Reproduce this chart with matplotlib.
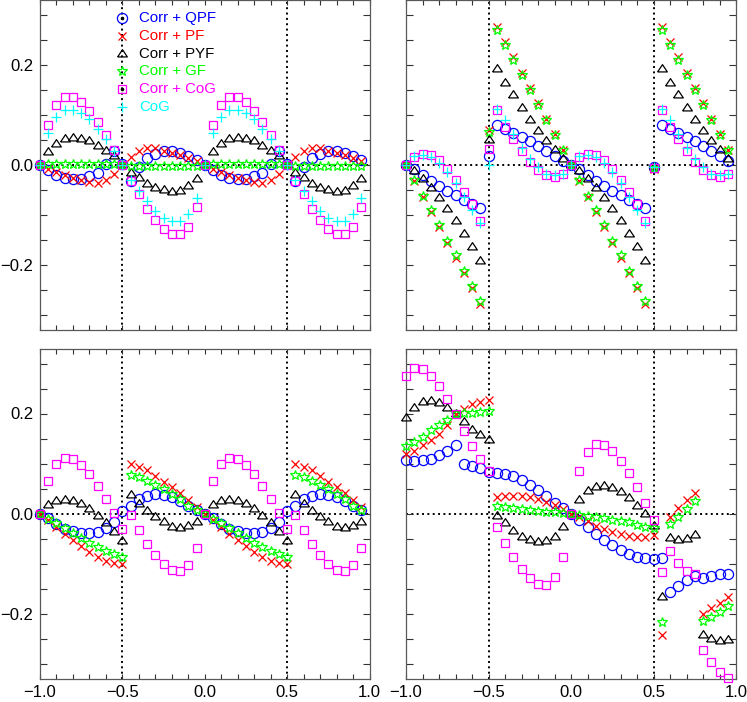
import numpy as np
import matplotlib
matplotlib.use("Agg")
import matplotlib.pyplot as plt
from matplotlib.ticker import MultipleLocator

plt.rcParams['font.family'] = ['Liberation Sans', 'DejaVu Sans']

# sample positions
x = [-1.0, -0.95, -0.9, -0.85, -0.8, -0.75, -0.7, -0.65, -0.6, -0.55,
     -0.5, -0.45, -0.4, -0.35, -0.3, -0.25, -0.2, -0.15, -0.1, -0.05,
     0.0, 0.05, 0.1, 0.15, 0.2, 0.25, 0.3, 0.35, 0.4, 0.45,
     0.5, 0.55, 0.6, 0.65, 0.7, 0.75, 0.8, 0.85, 0.9, 0.95]

labels = ["Corr + QPF", "Corr + PF", "Corr + PYF", "Corr + GF", "Corr + CoG", "CoG"]
colors = ["#0000ff", "#ff0000", "#000000", "#00ff00", "#ff00ff", "#00ffff"]

# ---- top left
tl_qpf = [0.0, -0.010, -0.019, -0.025, -0.028, -0.027, -0.022, -0.015, 0.003, 0.029,
          0.003, -0.031, -0.003, 0.015, 0.023, 0.028, 0.029, 0.025, 0.019, 0.010,
          0.0, -0.010, -0.019, -0.025, -0.028, -0.027, -0.022, -0.015, 0.003, 0.029,
          0.003, -0.031, -0.003, 0.015, 0.023, 0.028, 0.029, 0.025, 0.019, 0.010]
tl_pf = [0.0, -0.008, -0.014, -0.020, -0.025, -0.029, -0.034, -0.035, -0.029, -0.017,
         0.0, 0.017, 0.029, 0.035, 0.034, 0.029, 0.025, 0.020, 0.014, 0.008,
         0.0, -0.008, -0.014, -0.020, -0.025, -0.029, -0.034, -0.035, -0.029, -0.017,
         0.0, 0.017, 0.029, 0.035, 0.034, 0.029, 0.025, 0.020, 0.014, 0.008]
tl_pyf = [0.0, 0.027, 0.043, 0.052, 0.055, 0.053, 0.048, 0.039, 0.029, 0.018,
          0.0, -0.016, -0.026, -0.037, -0.045, -0.050, -0.053, -0.052, -0.041, -0.027,
          0.0, 0.027, 0.043, 0.052, 0.055, 0.053, 0.048, 0.039, 0.029, 0.018,
          0.0, -0.016, -0.026, -0.037, -0.045, -0.050, -0.053, -0.052, -0.041, -0.027]
tl_gf = [0.0, 0.002, 0.002, 0.002, 0.002, 0.002, 0.002, 0.002, 0.002, 0.002,
         0.0, -0.002, -0.002, -0.002, -0.002, -0.002, -0.002, -0.002, -0.002, -0.002,
         0.0, 0.002, 0.002, 0.002, 0.002, 0.002, 0.002, 0.002, 0.002, 0.002,
         0.0, -0.002, -0.002, -0.002, -0.002, -0.002, -0.002, -0.002, -0.002, -0.002]
tl_ccog = [0.0, 0.081, 0.120, 0.137, 0.137, 0.126, 0.109, 0.086, 0.060, 0.030,
           0.0, -0.031, -0.058, -0.088, -0.110, -0.128, -0.137, -0.137, -0.123, -0.084,
           0.0, 0.081, 0.120, 0.137, 0.137, 0.126, 0.109, 0.086, 0.060, 0.030,
           0.0, -0.031, -0.058, -0.088, -0.110, -0.128, -0.137, -0.137, -0.123, -0.084]
tl_cog = [0.0, 0.064, 0.096, 0.110, 0.111, 0.105, 0.092, 0.072, 0.052, 0.028,
          0.0, -0.029, -0.052, -0.072, -0.092, -0.105, -0.111, -0.111, -0.097, -0.065,
          0.0, 0.064, 0.096, 0.110, 0.111, 0.105, 0.092, 0.072, 0.052, 0.028,
          0.0, -0.029, -0.052, -0.072, -0.092, -0.105, -0.111, -0.111, -0.097, -0.065]

# ---- top right
tr_qpf = [0.0, -0.007, -0.019, -0.031, -0.041, -0.051, -0.060, -0.069, -0.077, -0.085,
          0.019, 0.081, 0.073, 0.065, 0.057, 0.048, 0.039, 0.029, 0.019, 0.009,
          0.0, -0.007, -0.019, -0.031, -0.041, -0.051, -0.060, -0.069, -0.077, -0.085,
          -0.003, 0.081, 0.073, 0.065, 0.057, 0.048, 0.039, 0.029, 0.019, 0.009]
tr_pf = [0.0, -0.032, -0.063, -0.093, -0.124, -0.155, -0.185, -0.216, -0.246, -0.277,
         0.070, 0.276, 0.246, 0.216, 0.185, 0.155, 0.124, 0.093, 0.062, 0.031,
         0.0, -0.032, -0.063, -0.093, -0.124, -0.155, -0.185, -0.216, -0.246, -0.277,
         -0.008, 0.276, 0.246, 0.216, 0.185, 0.155, 0.124, 0.093, 0.062, 0.031]
tr_pyf = [0.0, -0.011, -0.027, -0.045, -0.065, -0.087, -0.111, -0.137, -0.163, -0.192,
          0.050, 0.193, 0.165, 0.140, 0.115, 0.090, 0.068, 0.048, 0.031, 0.013,
          0.0, -0.011, -0.027, -0.045, -0.065, -0.087, -0.111, -0.137, -0.163, -0.192,
          -0.003, 0.193, 0.165, 0.140, 0.115, 0.090, 0.068, 0.048, 0.031, 0.013]
tr_gf = [0.0, -0.030, -0.061, -0.090, -0.120, -0.151, -0.180, -0.211, -0.241, -0.271,
         0.067, 0.270, 0.240, 0.211, 0.180, 0.150, 0.121, 0.090, 0.060, 0.030,
         0.0, -0.030, -0.061, -0.090, -0.120, -0.151, -0.180, -0.211, -0.241, -0.271,
         -0.006, 0.270, 0.240, 0.211, 0.180, 0.150, 0.121, 0.090, 0.060, 0.030]
tr_ccog = [0.0, 0.017, 0.023, 0.020, 0.010, -0.008, -0.030, -0.053, -0.077, -0.111,
           0.032, 0.111, 0.077, 0.053, 0.029, 0.007, -0.010, -0.019, -0.023, -0.018,
           0.0, 0.017, 0.023, 0.020, 0.010, -0.008, -0.030, -0.053, -0.077, -0.111,
           -0.005, 0.111, 0.077, 0.053, 0.029, 0.007, -0.010, -0.019, -0.023, -0.018]
tr_cog = [0.0, 0.018, 0.020, 0.017, 0.004, -0.013, -0.035, -0.063, -0.090, -0.115,
          0.0, 0.113, 0.090, 0.063, 0.035, 0.013, -0.004, -0.017, -0.020, -0.018,
          0.0, 0.018, 0.020, 0.017, 0.004, -0.013, -0.035, -0.063, -0.090, -0.115,
          -0.003, 0.113, 0.090, 0.063, 0.035, 0.013, -0.004, -0.017, -0.020, -0.018]

# ---- bottom left
bl_qpf = [0.0, -0.009, -0.021, -0.031, -0.035, -0.039, -0.039, -0.036, -0.029, -0.016,
          0.005, 0.016, 0.030, 0.036, 0.040, 0.038, 0.033, 0.026, 0.016, 0.007,
          0.0, -0.009, -0.021, -0.031, -0.035, -0.039, -0.039, -0.036, -0.029, -0.016,
          0.005, 0.016, 0.030, 0.036, 0.040, 0.038, 0.033, 0.026, 0.016, 0.007]
bl_pf = [0.0, -0.013, -0.027, -0.041, -0.052, -0.064, -0.076, -0.087, -0.094, -0.098,
         -0.101, 0.099, 0.093, 0.087, 0.076, 0.064, 0.053, 0.041, 0.027, 0.013,
         0.0, -0.013, -0.027, -0.041, -0.052, -0.064, -0.076, -0.087, -0.094, -0.098,
         -0.101, 0.099, 0.093, 0.087, 0.076, 0.064, 0.053, 0.041, 0.027, 0.013]
bl_pyf = [0.0, 0.017, 0.026, 0.027, 0.026, 0.020, 0.009, -0.004, -0.019, -0.037,
          -0.055, 0.038, 0.019, 0.006, -0.007, -0.017, -0.026, -0.029, -0.024, -0.017,
          0.0, 0.017, 0.026, 0.027, 0.026, 0.020, 0.009, -0.004, -0.019, -0.037,
          -0.055, 0.038, 0.019, 0.006, -0.007, -0.017, -0.026, -0.029, -0.024, -0.017]
bl_gf = [0.0, -0.010, -0.019, -0.028, -0.038, -0.048, -0.058, -0.067, -0.074, -0.081,
         -0.087, 0.077, 0.073, 0.066, 0.058, 0.050, 0.040, 0.030, 0.016, 0.007,
         0.0, -0.010, -0.019, -0.028, -0.038, -0.048, -0.058, -0.067, -0.074, -0.081,
         -0.087, 0.077, 0.073, 0.066, 0.058, 0.050, 0.040, 0.030, 0.016, 0.007]
bl_ccog = [0.0, 0.066, 0.099, 0.112, 0.110, 0.098, 0.080, 0.056, 0.030, 0.001,
           -0.031, -0.003, -0.032, -0.060, -0.082, -0.101, -0.112, -0.114, -0.102, -0.069,
           0.0, 0.066, 0.099, 0.112, 0.110, 0.098, 0.080, 0.056, 0.030, 0.001,
           -0.031, -0.003, -0.032, -0.060, -0.082, -0.101, -0.112, -0.114, -0.102, -0.069]

# ---- bottom right
br_qpf = [0.107, 0.105, 0.107, 0.110, 0.118, 0.126, 0.138, 0.100, 0.096, 0.091,
          0.084, 0.082, 0.080, 0.075, 0.067, 0.058, 0.047, 0.035, 0.022, 0.012,
          0.0, -0.012, -0.027, -0.041, -0.052, -0.063, -0.073, -0.080, -0.086, -0.089,
          -0.090, -0.088, -0.156, -0.144, -0.133, -0.124, -0.129, -0.125, -0.121, -0.120]
br_pf = [0.120, 0.126, 0.137, 0.148, 0.159, 0.177, 0.199, 0.210, 0.219, 0.224,
         0.228, 0.034, 0.036, 0.036, 0.036, 0.034, 0.030, 0.024, 0.017, 0.009,
         0.0, -0.007, -0.014, -0.024, -0.031, -0.036, -0.041, -0.044, -0.046, -0.046,
         -0.042, -0.242, -0.007, 0.012, 0.028, 0.042, -0.200, -0.188, -0.178, -0.167]
br_pyf = [0.192, 0.211, 0.223, 0.225, 0.222, 0.212, 0.200, 0.183, 0.168, 0.157,
          0.148, -0.004, -0.019, -0.034, -0.046, -0.053, -0.056, -0.054, -0.046, -0.027,
          0.0, 0.028, 0.046, 0.054, 0.055, 0.052, 0.044, 0.032, 0.016, -0.001,
          -0.024, -0.167, -0.048, -0.052, -0.051, -0.042, -0.243, -0.251, -0.254, -0.252]
br_gf = [0.135, 0.144, 0.154, 0.167, 0.177, 0.188, 0.199, 0.202, 0.202, 0.204,
         0.205, 0.016, 0.014, 0.011, 0.009, 0.007, 0.006, 0.004, 0.003, 0.001,
         0.0, -0.002, -0.005, -0.007, -0.009, -0.012, -0.014, -0.017, -0.022, -0.026,
         -0.029, -0.217, -0.021, -0.006, 0.009, 0.025, -0.215, -0.207, -0.197, -0.185]
br_ccog = [0.275, 0.292, 0.290, 0.276, 0.256, 0.229, 0.199, 0.166, 0.135, 0.109,
           0.085, -0.027, -0.058, -0.086, -0.110, -0.128, -0.140, -0.142, -0.126, -0.087,
           0.0, 0.085, 0.123, 0.139, 0.137, 0.125, 0.105, 0.081, 0.053, 0.022,
           -0.012, -0.117, -0.075, -0.098, -0.114, -0.121, -0.272, -0.297, -0.317, -0.328]

tri = [(-1.0, -0.5), (1.0, -0.5), (0.0, 1.0), (-1.0, -0.5)]
styles = [dict(marker='o', ms=7.3),
          dict(marker='x', ms=5.2),
          dict(marker=tri, ms=7.0),
          dict(marker='*', ms=7.2),
          dict(marker='s', ms=5.2),
          dict(marker='+', ms=6.8)]

panels = [
    [tl_qpf, tl_pf, tl_pyf, tl_gf, tl_ccog, tl_cog],
    [tr_qpf, tr_pf, tr_pyf, tr_gf, tr_ccog, tr_cog],
    [bl_qpf, bl_pf, bl_pyf, bl_gf, bl_ccog, None],
    [br_qpf, br_pf, br_pyf, br_gf, br_ccog, None],
]

fig = plt.figure(figsize=(7.47, 7.02), dpi=100)
W, H = 747.0, 702.0
boxes = [(40, 0, 369.5, 330), (406, 0, 736, 330),
         (40, 348.5, 369.5, 678.5), (406, 348.5, 736, 678.5)]

for i, (l, t, r, b) in enumerate(boxes):
    ax = fig.add_axes([l / W, 1 - b / H, (r - l) / W, (b - t) / H])
    ax.set_xlim(-1.0, 1.0)
    ax.set_ylim(-0.33, 0.33)
    ax.xaxis.set_major_locator(MultipleLocator(0.5))
    ax.xaxis.set_minor_locator(MultipleLocator(0.1))
    ax.yaxis.set_major_locator(MultipleLocator(0.2))
    ax.yaxis.set_minor_locator(MultipleLocator(0.05))
    ax.tick_params(axis='both', which='both', direction='in', top=True, right=True,
                   width=0.8, color='0.2', labelsize=12, pad=5)
    ax.tick_params(axis='x', which='both', length=3.6)
    ax.tick_params(axis='y', which='both', length=5)
    for s in ax.spines.values():
        s.set_color('0.35')
        s.set_linewidth(0.9)
    if i < 2:
        ax.tick_params(axis='x', labelbottom=False)
    if i % 2 == 1:
        ax.tick_params(axis='y', labelleft=False)

    for xv in (-0.5, 0.5):
        ax.axvline(xv, color='k', lw=1.4, ls=(0, (1, 1.75)), zorder=1)
    ax.axhline(0.0, color='k', lw=1.4, ls=(0, (1, 1.75)), zorder=1)

    for j, ys in enumerate(panels[i]):
        if ys is None:
            continue
        ax.plot(x, ys, ls='none', mfc='none', mec=colors[j], mew=0.9,
                clip_on=False, zorder=2 + j, **styles[j])

    if i == 0:
        mx, tx, y0, dy = 0.249, 0.300, 0.945, 0.0536
        for j, lab in enumerate(labels):
            yy = y0 - j * dy
            ax.plot([mx], [yy], ls='none', mfc='none', mec=colors[j], mew=0.9,
                    transform=ax.transAxes, clip_on=False, **styles[j])
            if styles[j]['marker'] in ('o', 's'):
                ax.plot([mx], [yy], ls='none', marker='o', ms=1.6, color='k',
                        transform=ax.transAxes)
            ax.text(tx, yy, lab, color=colors[j], fontsize=10.8, va='center',
                    ha='left', transform=ax.transAxes)

fig.savefig("out.png", dpi=100)
